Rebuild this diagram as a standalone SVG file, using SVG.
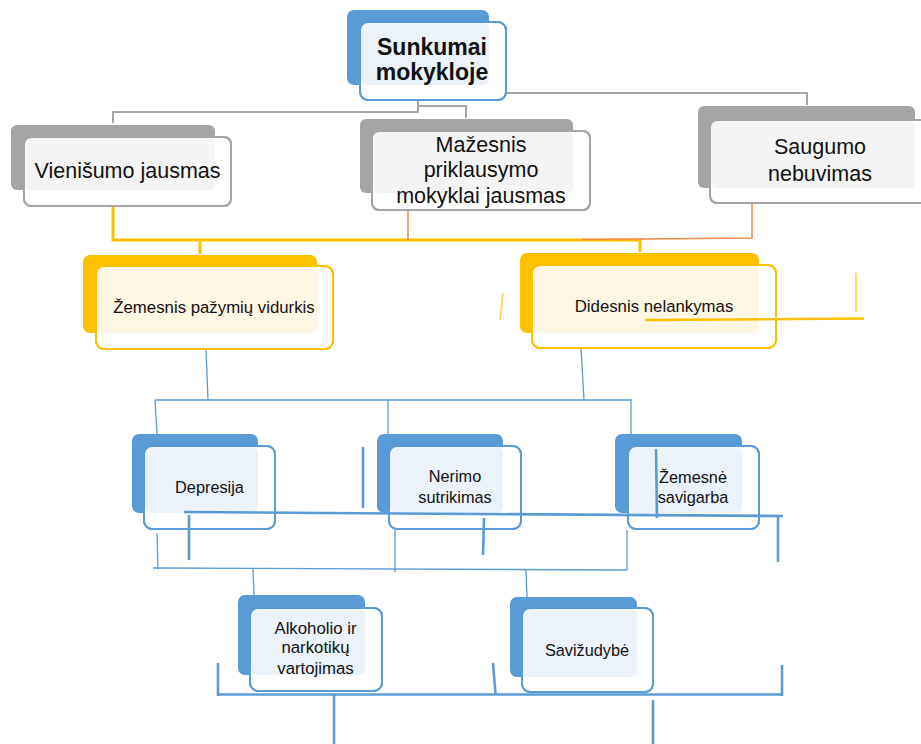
<svg xmlns="http://www.w3.org/2000/svg" width="921" height="744" viewBox="0 0 921 744">
<style>
text{font-family:"Liberation Sans",Arial,sans-serif;fill:#111;text-anchor:middle}
.t0{font-size:23px;font-weight:bold}
.t1{font-size:21.5px}
.t2{font-size:16.8px}
.t3{font-size:16.3px}
.t4{font-size:16.8px}
.bkB{fill:#5B9BD5}.bkG{fill:#A5A5A5}.bkY{fill:#FFC000}
.frB{fill:#fff;stroke:#5B9BD5;stroke-width:2}
.frG{fill:#fff;stroke:#A5A5A5;stroke-width:2}
.frY{fill:#fff;stroke:#FFC000;stroke-width:2}
.ltB{fill:#EBF2FA}.ltG{fill:#F4F4F4}.ltY{fill:#FFF6E4}
.ol{fill:none}
.cg{fill:none;stroke:#A5A5A5;stroke-width:2}
.cy{fill:none;stroke:#FFC000;stroke-width:3}
.co{fill:none;stroke:#EE8A4A;stroke-width:1.5}
.cb{fill:none;stroke:#5B9BD5;stroke-width:1.3}
.sb{fill:none;stroke:#5B9BD5;stroke-width:2.6}
.sy{fill:none;stroke:#FFC000;stroke-width:2.6}
.sl{fill:none;stroke:#FFD966;stroke-width:2}
</style>
<g id="connectors">
<path class="cg" d="M418,101 V112 H113 V123"/>
<path class="cg" d="M418,106 H466 V118"/>
<path class="cg" d="M506,93 H807 V105"/>
<path class="cy" d="M113,206 V240 H640 V252"/>
<path class="cy" d="M200,240 V254"/>
<path class="co" d="M408,210 V240"/>
<path class="co" d="M752,203 V238 L582,239.5"/>
<path class="cb" d="M206,349 L208,400"/>
<path class="cb" d="M155,400 H631 V434"/>
<path class="cb" d="M155,400 L157,434"/>
<path class="cb" d="M388,400 V434"/>
<path class="cb" d="M581,348 L584,400"/>
<path class="cb" d="M157,533 L158,569"/>
<path class="cb" d="M395,530 V572"/>
<path class="cb" d="M627,530 V570"/>
<path class="cb" d="M153,568 L627,570"/>
<path class="cb" d="M253,568 L254,595"/>
<path class="cb" d="M526,570 L527,597"/>
</g>
<g id="node-sunkumai">
<rect class="bkB" x="347" y="10" width="142" height="75" rx="7"/>
<rect class="frB" x="360" y="22" width="146" height="78" rx="8"/>
<rect class="ltB" x="361" y="23" width="128" height="62" rx="6"/>
<rect class="frB ol" x="360" y="22" width="146" height="78" rx="8"/>
<text class="t0" x="432" y="55">Sunkumai</text>
<text class="t0" x="432" y="80">mokykloje</text>
</g>
<g id="node-vienisumo">
<rect class="bkG" x="11" y="125" width="204" height="65" rx="6"/>
<rect class="frG" x="24" y="137" width="207" height="69" rx="7"/>
<rect class="ltG" x="25" y="138" width="190" height="52" rx="6"/>
<rect class="frG ol" x="24" y="137" width="207" height="69" rx="7"/>
<text class="t1" x="127.5" y="178">Vienišumo jausmas</text>
</g>
<g id="node-mazesnis">
<rect class="bkG" x="360" y="119" width="213" height="74" rx="6"/>
<rect class="frG" x="372" y="131" width="218" height="79" rx="7"/>
<rect class="ltG" x="373" y="132" width="200" height="61" rx="6"/>
<rect class="frG ol" x="372" y="131" width="218" height="79" rx="7"/>
<text class="t1" x="481" y="152">Mažesnis</text>
<text class="t1" x="481" y="177">priklausymo</text>
<text class="t1" x="481" y="203">mokyklai jausmas</text>
</g>
<g id="node-saugumo">
<rect class="bkG" x="698" y="106" width="217" height="82" rx="6"/>
<rect class="frG" x="710" y="120" width="225" height="83" rx="7"/>
<rect class="ltG" x="711" y="121" width="204" height="67" rx="6"/>
<rect class="frG ol" x="710" y="120" width="225" height="83" rx="7"/>
<text class="t1" x="820" y="154">Saugumo</text>
<text class="t1" x="820" y="181">nebuvimas</text>
</g>
<g id="node-zemesnis-pazymiu">
<rect class="bkY" x="83" y="255" width="234" height="78" rx="7"/>
<rect class="frY" x="96" y="266" width="237" height="83" rx="8"/>
<rect class="ltY" x="97" y="267" width="220" height="66" rx="6"/>
<rect class="frY ol" x="96" y="266" width="237" height="83" rx="8"/>
<text class="t2" x="214" y="313">Žemesnis pažymių vidurkis</text>
</g>
<g id="node-didesnis">
<rect class="bkY" x="520" y="253" width="239" height="80" rx="7"/>
<rect class="frY" x="532" y="265" width="244" height="83" rx="8"/>
<rect class="ltY" x="533" y="266" width="226" height="67" rx="6"/>
<rect class="frY ol" x="532" y="265" width="244" height="83" rx="8"/>
<text class="t2" x="654" y="312">Didesnis nelankymas</text>
</g>
<g id="node-depresija">
<rect class="bkB" x="132" y="434" width="126" height="79" rx="7"/>
<rect class="frB" x="144" y="446" width="131" height="83" rx="8"/>
<rect class="ltB" x="145" y="447" width="113" height="66" rx="6"/>
<rect class="frB ol" x="144" y="446" width="131" height="83" rx="8"/>
<text class="t3" x="209.5" y="493">Depresija</text>
</g>
<g id="node-nerimo">
<rect class="bkB" x="377" y="434" width="126" height="79" rx="7"/>
<rect class="frB" x="389" y="446" width="132" height="83" rx="8"/>
<rect class="ltB" x="390" y="447" width="113" height="66" rx="6"/>
<rect class="frB ol" x="389" y="446" width="132" height="83" rx="8"/>
<text class="t3" x="455" y="482">Nerimo</text>
<text class="t3" x="455" y="503">sutrikimas</text>
</g>
<g id="node-zemesne-savigarba">
<rect class="bkB" x="615" y="434" width="127" height="79" rx="7"/>
<rect class="frB" x="628" y="446" width="131" height="83" rx="8"/>
<rect class="ltB" x="629" y="447" width="113" height="66" rx="6"/>
<rect class="frB ol" x="628" y="446" width="131" height="83" rx="8"/>
<text class="t3" x="693" y="483">Žemesnė</text>
<text class="t3" x="693" y="503">savigarba</text>
</g>
<g id="node-alkoholio">
<rect class="bkB" x="238" y="595" width="127" height="80" rx="7"/>
<rect class="frB" x="250" y="608" width="132" height="83" rx="8"/>
<rect class="ltB" x="251" y="609" width="114" height="66" rx="6"/>
<rect class="frB ol" x="250" y="608" width="132" height="83" rx="8"/>
<text class="t4" x="315.5" y="634">Alkoholio ir</text>
<text class="t4" x="315.5" y="653">narkotikų</text>
<text class="t4" x="315.5" y="674">vartojimas</text>
</g>
<g id="node-savizudybe">
<rect class="bkB" x="510" y="597" width="127" height="80" rx="7"/>
<rect class="frB" x="522" y="608" width="131" height="84" rx="8"/>
<rect class="ltB" x="523" y="609" width="114" height="68" rx="6"/>
<rect class="frB ol" x="522" y="608" width="131" height="84" rx="8"/>
<text class="t3" x="587" y="656">Savižudybė</text>
</g>
<g id="stray-lines">
<path class="sl" d="M503,293 L500,320"/>
<path class="sl" d="M856,273 V312"/>
<path class="sy" d="M645,320 L864,318.5"/>
<path class="sb" d="M363,447 V508"/>
<path class="sb" d="M184,512 L783,516"/>
<path class="sb" d="M189,515 V560"/>
<path class="sb" d="M484,518 L483,555"/>
<path class="sb" d="M656,449 L657,518"/>
<path class="sb" d="M778,516 V562"/>
<path class="sb" d="M217,694.5 H783"/>
<path class="sb" d="M218,663 V696"/>
<path class="sb" d="M493,663 L495.5,694"/>
<path class="sb" d="M782,665 V696"/>
<path class="sb" d="M334,694 V744"/>
<path class="sb" d="M653,700 V744"/>
</g>
</svg>
